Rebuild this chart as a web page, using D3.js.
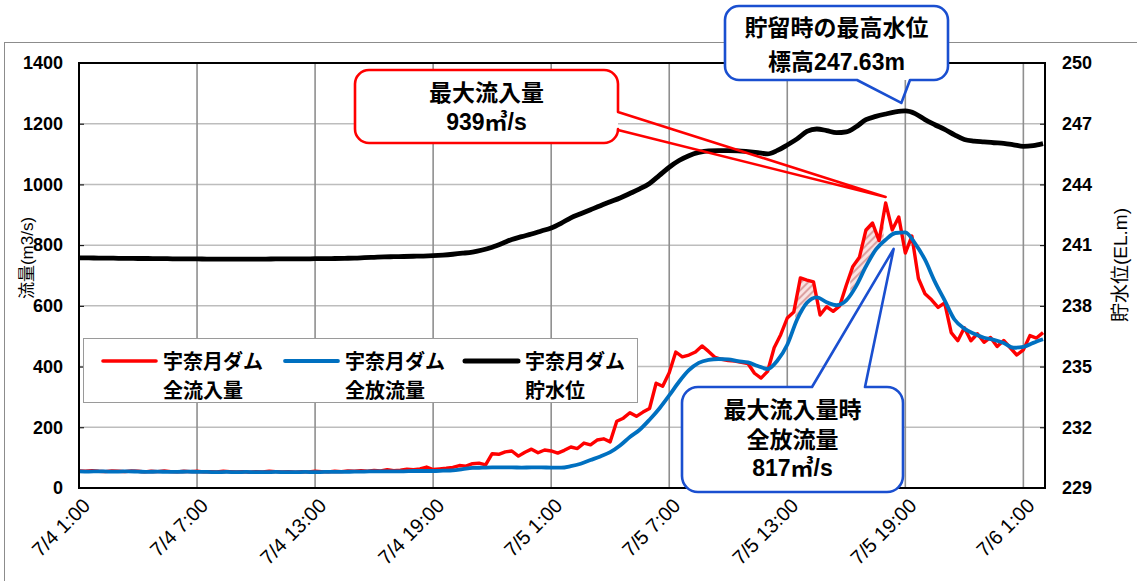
<!DOCTYPE html>
<html><head><meta charset="utf-8">
<script src="https://cdn.jsdelivr.net/npm/d3@7/dist/d3.min.js"></script>
<style>
body{margin:0;background:#fff}
svg{display:block}
text{font-family:"Liberation Sans","Noto Sans CJK JP",sans-serif;fill:#000}
</style>
</head><body>
<svg id="chart" width="1137" height="581"></svg>
<script>
// ---------------- DATA ----------------
// hours counted from 7/4 1:00
const xTickHours  = [0, 6, 12, 18, 24, 30, 36, 42, 48];
const xTickLabels = ["7/4 1:00","7/4 7:00","7/4 13:00","7/4 19:00","7/5 1:00","7/5 7:00","7/5 13:00","7/5 19:00","7/6 1:00"];
const flowTicks  = [0, 200, 400, 600, 800, 1000, 1200, 1400];
const levelTicks = [229, 232, 235, 238, 241, 244, 247, 250];

// 全流入量 (m3/s), every 20 minutes from 7/4 1:00
const inflowStepHours = 1/3;
const inflow = [
  56,55,57, 55,54,56, 55,54,56, 55,53,55, 54,56,54, 53,55,54, 55,53,54, 53,55,54,
  53,54,52, 54,53,55, 54,53,54, 52,54,53, 55,54,53, 55,54,56, 55,57,55, 58,56,60,
  57,59,62, 60,63,69, 61,63,65, 68,74,72, 80,82,76, 113,111,119, 122,105,118, 128,116,125,
  122,115,124, 135,130,148, 142,158,162, 152,220,230, 248,236,250, 262,345,335,
  380,448,432, 438,448,468, 450,430,424, 420,418,414, 410,378,362, 384,462,505,
  560,580,692, 685,679,570, 597,582,600, 668,730,760, 850,873,815, 939,850,893,
  774,830,690, 640,620,595, 610,512,485, 528,485,508, 480,496,466, 486,462,438,
  455,502,494, 512
];
// 全放流量 (m3/s), every 30 minutes
const outflowStepHours = 0.5;
const outflow = [
  55,54, 55,54, 54,55, 54,53, 54,53, 53,54, 53,53, 52,53, 52,53, 52,52,
  53,52, 52,53, 52,53, 53,53, 54,54, 55,55, 55,55, 56,56, 56,57, 58,62,
  66,67, 68,68, 68,67, 68,68, 67,67, 72,80, 92,104, 118,140, 168,192, 225,262,
  305,350, 388,412, 422,425, 424,418, 414,402, 392,420, 472,555, 610,628, 612,602, 618,665,
  730,785, 818,840, 842,805, 752,680, 618,555, 525,508, 495,488, 478,462, 465,478, 490
];
// 貯水位 (EL.m), every 30 minutes
const levelStepHours = 0.5;
const level = [
  240.37,240.37, 240.36,240.36, 240.35,240.35, 240.34,240.34, 240.33,240.33,
  240.32,240.32, 240.32,240.31, 240.31,240.31, 240.31,240.31, 240.31,240.31,
  240.32,240.32, 240.32,240.32, 240.33,240.33, 240.34,240.35, 240.36,240.38,
  240.40,240.42, 240.43,240.44, 240.45,240.46, 240.48,240.51, 240.55,240.60,
  240.66,240.76, 240.90,241.08, 241.28,241.42, 241.55,241.70, 241.85,242.08,
  242.35,242.55, 242.75,242.95, 243.14,243.33, 243.55,243.78, 244.05,244.45,
  244.85,245.18, 245.42,245.58, 245.66,245.67, 245.67,245.66, 245.62,245.57,
  245.51,245.68, 245.95,246.25, 246.62,246.74, 246.66,246.56, 246.60,246.85,
  247.20,247.36, 247.48,247.58, 247.63,247.50, 247.20,246.95, 246.72,246.45,
  246.22,246.14, 246.10,246.06, 246.03,245.96, 245.88,245.92, 246.02
];
// storage (hatched) periods, hours
const hatchRanges = [[36.4, 37.6], [39.2, 40.9]];

const seriesNames = [["宇奈月ダム","全流入量"],["宇奈月ダム","全放流量"],["宇奈月ダム","貯水位"]];
const seriesColors = ["#ff0000", "#0070c0", "#000000"];

const peakInflowHour = 41, peakInflow = 939, outflowAtPeak = 817;
const peakLevelHour = 42, peakLevel = 247.63;

// ---------------- CHART ----------------
const svg = d3.select("#chart");
const L = 79, R = 1045, T = 63, B = 488;
const x = d3.scaleLinear().domain([0, 49.1]).range([L, R]);
const yF = d3.scaleLinear().domain([0, 1400]).range([B, T]);
const yL = d3.scaleLinear().domain([229, 250]).range([B, T]);

const withTime = (arr, step) => arr.map((v, i) => ({t: i * step, v}));
const inflowPts = withTime(inflow, inflowStepHours);
const outflowPts = withTime(outflow, outflowStepHours);
const levelPts = withTime(level, levelStepHours);
function valueAt(arr, step, t) {
  const p = t / step, i = Math.min(Math.floor(p), arr.length - 2), f = p - i;
  return arr[i] * (1 - f) + arr[i + 1] * f;
}

// defs: hatch
const defs = svg.append("defs");
const pat = defs.append("pattern").attr("id", "hatch").attr("width", 5).attr("height", 5)
  .attr("patternUnits", "userSpaceOnUse").attr("patternTransform", "rotate(45)");
pat.append("rect").attr("width", 5).attr("height", 5).attr("fill", "#f9e3e3");
pat.append("line").attr("x1", 1).attr("y1", 0).attr("x2", 1).attr("y2", 5)
  .attr("stroke", "#d99a9a").attr("stroke-width", 1.8);

// outer frame
svg.append("rect").attr("x", 4.5).attr("y", 42.5).attr("width", 1160).attr("height", 600)
  .attr("fill", "none").attr("stroke", "#8c8c8c").attr("stroke-width", 1);

// gridlines
svg.append("g").selectAll("line").data(flowTicks.filter(d => d > 0 && d < 1400)).join("line")
  .attr("x1", L).attr("x2", R).attr("y1", d => yF(d)).attr("y2", d => yF(d))
  .attr("stroke", "#bdbdbd").attr("stroke-width", 1.5);
svg.append("g").selectAll("line").data(xTickHours.filter(d => d > 0)).join("line")
  .attr("x1", d => x(d)).attr("x2", d => x(d)).attr("y1", T).attr("y2", B)
  .attr("stroke", "#8f8f8f").attr("stroke-width", 1.6);

// hatched areas
hatchRanges.forEach(([a, b]) => {
  const ts = [a, ...inflowPts.map(d => d.t).filter(t => t > a && t < b), ...outflowPts.map(d => d.t).filter(t => t > a && t < b), b]
    .sort((p, q) => p - q);
  const pts = ts.map(t => {
    const bo = valueAt(outflow, outflowStepHours, t), ri = valueAt(inflow, inflowStepHours, t);
    return {t, lo: bo, hi: Math.max(bo, ri)};
  });
  svg.append("path").datum(pts)
    .attr("d", d3.area().x(d => x(d.t)).y0(d => yF(d.lo)).y1(d => yF(d.hi)))
    .attr("fill", "url(#hatch)");
});

// series
const lineF = d3.line().x(d => x(d.t)).y(d => yF(d.v));
const lineL = d3.line().x(d => x(d.t)).y(d => yL(d.v)).curve(d3.curveMonotoneX);
svg.append("path").datum(inflowPts).attr("d", lineF).attr("fill", "none")
  .attr("stroke", seriesColors[0]).attr("stroke-width", 3.4).attr("stroke-linejoin", "round");
svg.append("path").datum(outflowPts).attr("d", lineF.curve(d3.curveMonotoneX)).attr("fill", "none")
  .attr("stroke", seriesColors[1]).attr("stroke-width", 3.8).attr("stroke-linejoin", "round");
svg.append("path").datum(levelPts).attr("d", lineL).attr("fill", "none")
  .attr("stroke", seriesColors[2]).attr("stroke-width", 4.8).attr("stroke-linejoin", "round");

// plot border
svg.append("rect").attr("x", L).attr("y", T).attr("width", R - L).attr("height", B - T)
  .attr("fill", "none").attr("stroke", "#000").attr("stroke-width", 2);

// axes
const axL = svg.append("g").attr("transform", `translate(${L},0)`)
  .call(d3.axisLeft(yF).tickValues(flowTicks).tickSize(-5).tickPadding(16).tickFormat(d3.format("d")));
const axR = svg.append("g").attr("transform", `translate(${R},0)`)
  .call(d3.axisRight(yL).tickValues(levelTicks).tickSize(-5).tickPadding(17).tickFormat(d3.format("d")));
const axB = svg.append("g").attr("transform", `translate(0,${B})`)
  .call(d3.axisBottom(x).tickValues(xTickHours).tickSize(0).tickFormat((d, i) => xTickLabels[i]));
[axL, axR, axB].forEach(g => { g.select(".domain").remove(); g.selectAll(".tick line").attr("stroke", "#000"); });
[axL, axR].forEach(g => g.selectAll("text").attr("font-size", 18).attr("font-weight", "bold")
  .attr("font-family", "'Liberation Sans',Arial,sans-serif").attr("fill", "#000"));
axB.selectAll("text").attr("font-size", 20).attr("fill", "#000")
  .attr("font-family", "'Liberation Sans',Arial,sans-serif")
  .attr("x", 0).attr("y", 0).attr("dy", "0.35em").attr("text-anchor", "end")
  .attr("transform", "translate(7,14) rotate(-45)");

// axis titles
svg.append("text").attr("transform", "translate(27,258) rotate(-90)").attr("text-anchor", "middle")
  .attr("dominant-baseline", "central").attr("font-size", 17).text("流量(m3/s)");
svg.append("text").attr("transform", "translate(1120,265) rotate(-90)").attr("text-anchor", "middle")
  .attr("dominant-baseline", "central").attr("font-size", 19).text("貯水位(EL.m)");

// legend
const lg = svg.append("g");
lg.append("rect").attr("x", 83.5).attr("y", 338.5).attr("width", 554).attr("height", 64)
  .attr("fill", "#fff").attr("stroke", "#9a9a9a").attr("stroke-width", 1);
const legX = [103, 285, 465], legW = [3.6, 3.8, 5];
seriesNames.forEach((nm, i) => {
  lg.append("line").attr("x1", legX[i]).attr("x2", legX[i] + 53).attr("y1", 361).attr("y2", 361)
    .attr("stroke", seriesColors[i]).attr("stroke-width", legW[i]).attr("stroke-linecap", "round");
  nm.forEach((s, j) => lg.append("text").attr("x", legX[i] + 60).attr("y", 362 + j * 29)
    .attr("dominant-baseline", "central").attr("font-size", 20).attr("font-weight", "bold").text(s));
});

// callouts
function callout(b, side, a, c, tip) {
  const {x0, y0, x1, y1, r} = b;
  let p = `M${x0 + r},${y0}`;
  if (side === "top") p += `H${a}L${tip[0]},${tip[1]}L${c},${y0}`;
  p += `H${x1 - r}A${r},${r} 0 0 1 ${x1},${y0 + r}`;
  if (side === "right") p += `V${a}L${tip[0]},${tip[1]}L${x1},${c}`;
  p += `V${y1 - r}A${r},${r} 0 0 1 ${x1 - r},${y1}`;
  if (side === "bottom") p += `H${c}L${tip[0]},${tip[1]}L${a},${y1}`;
  p += `H${x0 + r}A${r},${r} 0 0 1 ${x0},${y1 - r}V${y0 + r}A${r},${r} 0 0 1 ${x0 + r},${y0}Z`;
  return p;
}
function drawCallout(b, side, a, c, tip, color, lines) {
  const g = svg.append("g");
  g.append("rect").attr("x", b.x0).attr("y", b.y0).attr("width", b.x1 - b.x0).attr("height", b.y1 - b.y0)
    .attr("rx", b.r).attr("fill", "#fff");
  g.append("path").attr("d", callout(b, side, a, c, tip)).attr("fill", "none")
    .attr("stroke", color).attr("stroke-width", 2.6).attr("stroke-linejoin", "round");
  lines.forEach(l => g.append("text").attr("x", (b.x0 + b.x1) / 2).attr("y", l.y)
    .attr("text-anchor", "middle").attr("dominant-baseline", "central")
    .attr("font-size", l.size).attr("font-weight", l.weight).text(l.text));
}
drawCallout({x0: 355, y0: 70, x1: 618, y1: 143, r: 14}, "right", 112, 130,
  [x(peakInflowHour), yF(peakInflow) - 6], "#ff0000",
  [{text: "最大流入量", y: 93, size: 23, weight: "bold"},
   {text: peakInflow + "㎥/s", y: 122, size: 23, weight: "bold"}]);
drawCallout({x0: 725, y0: 6, x1: 948, y1: 80, r: 14}, "bottom", 857, 910,
  [x(peakLevelHour) - 4, yL(peakLevel) - 8], "#1a4fd0",
  [{text: "貯留時の最高水位", y: 28, size: 23, weight: "bold"},
   {text: "標高" + peakLevel.toFixed(2) + "m", y: 62, size: 23, weight: "bold"}]);
drawCallout({x0: 682, y0: 387, x1: 903, y1: 492, r: 16}, "top", 812, 865,
  [x(peakInflowHour) + 8, yF(outflowAtPeak) + 9], "#1a4fd0",
  [{text: "最大流入量時", y: 410, size: 23, weight: "bold"},
   {text: "全放流量", y: 440, size: 23, weight: "bold"},
   {text: outflowAtPeak + "㎥/s", y: 468, size: 23, weight: "bold"}]);
</script>
</body></html>
